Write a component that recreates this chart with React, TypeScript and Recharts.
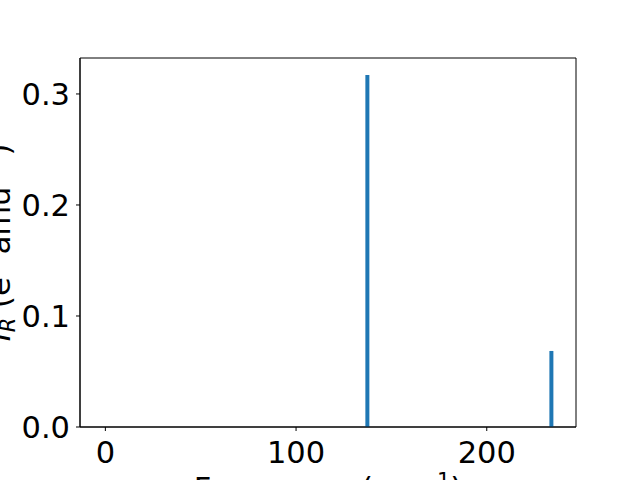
import React from "react";
import { BarChart, Bar, XAxis, YAxis, Label, ReferenceArea } from "recharts";

const frequencies = [137.4, 233.9];
const intensities = [0.317, 0.0685];
const xTicks = [0, 100, 200];
const yTicks = [0, 0.1, 0.2, 0.3];
const xDomain: [number, number] = [-13.3, 246.8];
const yDomain: [number, number] = [0, 0.3324];

const data = frequencies.map((f, i) => ({ freq: f, ir: intensities[i] }));

const FONT = "DejaVu Sans";
const FS = 30.5;
const SFS = 21;

const YLabel = (props: any) => {
  const vb = props.viewBox || {};
  const cy = (vb.y ?? 58) + (vb.height ?? 369) / 2;
  const x = 10;
  return (
    <text
      x={x}
      y={cy}
      transform={`rotate(-90 ${x} ${cy})`}
      textAnchor="middle"
      fontFamily={FONT}
      fontSize={FS}
      fill="#000"
    >
      <tspan fontStyle="italic">I</tspan>
      <tspan fontSize={SFS} fontStyle="italic" dy={5}>R</tspan>
      <tspan dy={-5}> (e</tspan>
      <tspan fontSize={SFS} dy={-11}>2</tspan>
      <tspan dy={11}> amu</tspan>
      <tspan fontSize={SFS} dy={-11}>−1</tspan>
      <tspan dy={11}>)</tspan>
    </text>
  );
};

const XLabel = (props: any) => {
  const vb = props.viewBox || {};
  const cx = (vb.x ?? 80) + (vb.width ?? 496) / 2;
  const y = 499;
  return (
    <text x={cx} y={y} textAnchor="middle" fontFamily={FONT} fontSize={FS} fill="#000">
      <tspan>Frequency (cm</tspan>
      <tspan fontSize={SFS} dy={-11}>−1</tspan>
      <tspan dy={11}>)</tspan>
    </text>
  );
};

export default function App() {
  return (
    <div style={{ position: "absolute", left: 0, top: 0, background: "#fff" }}>
      <BarChart
        width={640}
        height={480}
        data={data}
        margin={{ top: 58, right: 64, bottom: 0, left: 0 }}
        style={{ fontFamily: FONT }}
      >
        <XAxis
          dataKey="freq"
          type="number"
          domain={xDomain}
          ticks={xTicks}
          allowDataOverflow
          height={53}
          tickSize={4}
          tickMargin={10}
          stroke="#000"
          tick={{ fill: "#000", fontSize: FS, fontFamily: FONT }}
        >
          <Label content={<XLabel />} />
        </XAxis>
        <YAxis
          type="number"
          domain={yDomain}
          ticks={yTicks}
          allowDataOverflow
          width={80}
          tickSize={4}
          tickMargin={6}
          stroke="#000"
          tickFormatter={(v: number) => v.toFixed(1)}
          tick={{ fill: "#000", fontSize: FS, fontFamily: FONT }}
        >
          <Label content={<YLabel />} />
        </YAxis>
        <Bar dataKey="ir" fill="#1f77b4" barSize={4} isAnimationActive={false} />
        <ReferenceArea
          x1={xDomain[0]}
          x2={xDomain[1]}
          y1={yDomain[0]}
          y2={yDomain[1]}
          fill="none"
          fillOpacity={0}
          stroke="#000"
          strokeWidth={1}
          ifOverflow="visible"
        />
      </BarChart>
    </div>
  );
}
